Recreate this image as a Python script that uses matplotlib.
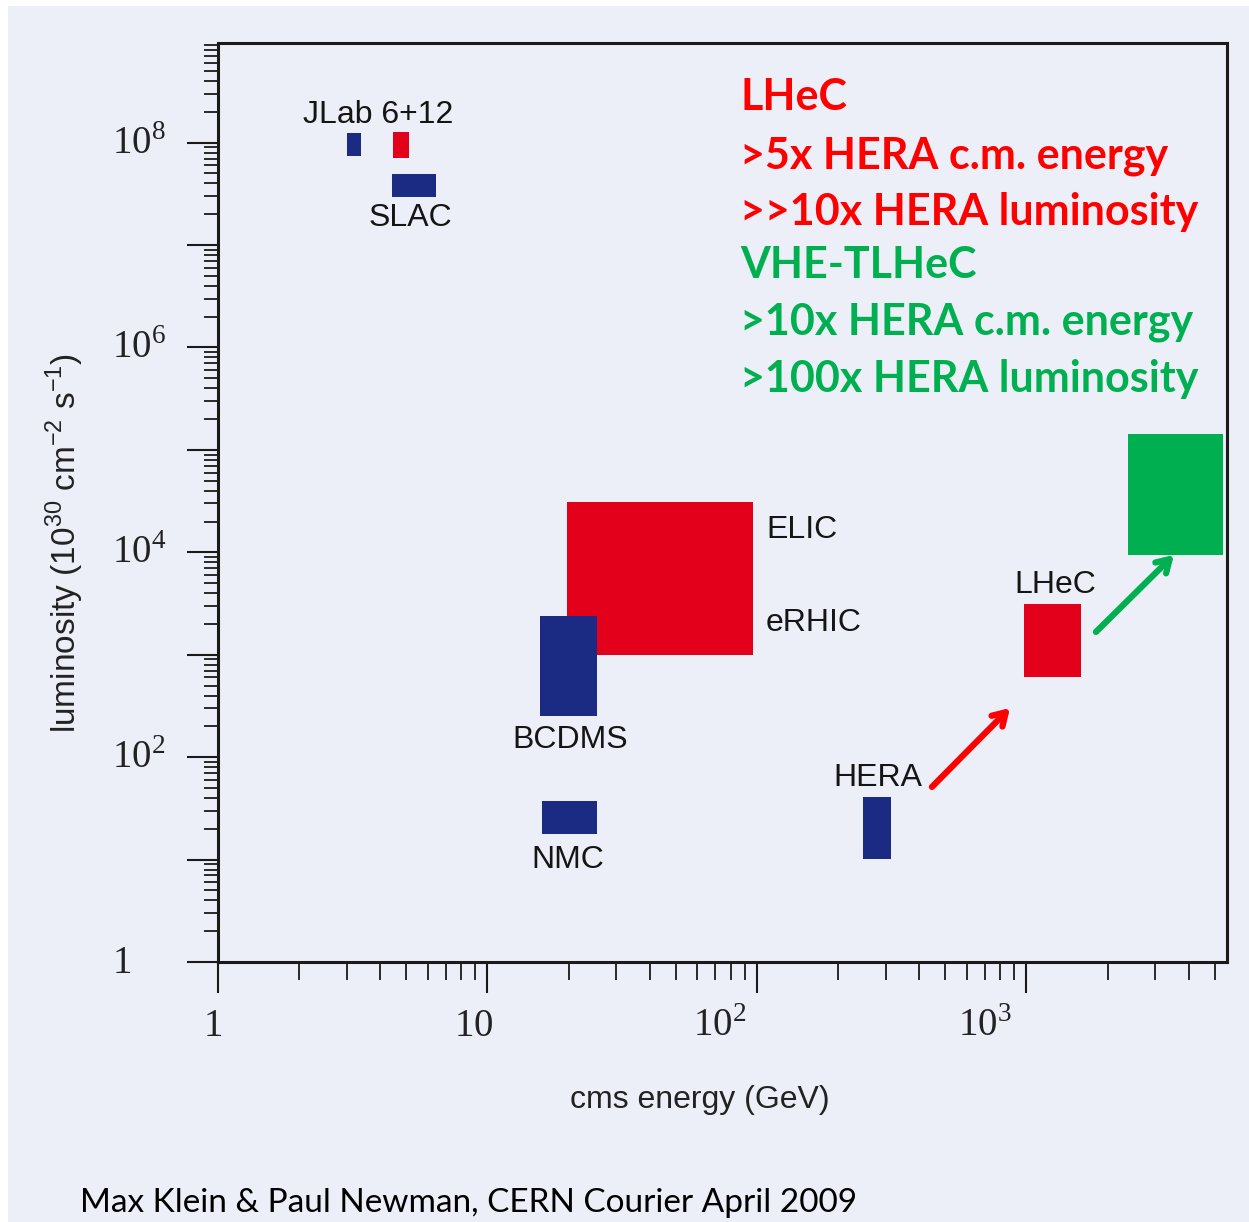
import numpy as np
import matplotlib
matplotlib.use("Agg")
import matplotlib.pyplot as plt
from matplotlib.patches import Rectangle
from matplotlib import font_manager
from matplotlib.ticker import LogLocator
from matplotlib.transforms import ScaledTranslation, blended_transform_factory

# facilities: energy range (GeV) and luminosity range (10^30 cm^-2 s^-1)
names = ['JLab 6', 'JLab 12', 'SLAC', 'ELIC/eRHIC', 'BCDMS', 'NMC', 'HERA', 'LHeC', 'VHE-TLHeC']
e_lo = [3.0, 4.45, 4.43, 19.7, 15.7, 15.9, 247, 979, 2380]
e_hi = [3.4, 5.1, 6.45, 96.6, 25.5, 25.5, 314, 1590, 5360]
lum_lo = [7.4e7, 7.1e7, 2.96e7, 1.0e3, 253, 17.8, 10.1, 607, 9.5e3]
lum_hi = [1.25e8, 1.27e8, 4.96e7, 3.1e4, 2390, 37.3, 40.9, 3130, 1.43e5]
box_colors = ['navy', 'red', 'navy', 'red', 'navy', 'navy', 'navy', 'red', 'green']

# label text and anchor point (energy, luminosity)
labels = ['JLab 6+12', 'SLAC', 'ELIC', 'eRHIC', 'BCDMS', 'NMC', 'HERA', 'LHeC']
lab_e = [3.92, 5.16, 108, 108, 20.2, 19.9, 281, 1276]
lab_lum = [1.87e8, 1.85e7, 1.66e4, 2046, 147, 9.9, 62.6, 4808]
lab_ha = ['center', 'center', 'left', 'left', 'center', 'center', 'center', 'center']

# arrows: (start energy, start lum) -> (end energy, end lum)
arr_start = [(446, 51.2), (1811, 1670)]
arr_end = [(869, 302), (3525, 9430)]
arr_colors = ['red', 'green']

notes = ['LHeC', '>5x HERA c.m. energy', '>>10x HERA luminosity',
         'VHE-TLHeC', '>10x HERA c.m. energy', '>100x HERA luminosity']
note_colors = ['red', 'red', 'red', 'green', 'green', 'green']

xtick_vals = [1, 10, 100, 1000]
xtick_text = ['$1$', '$10$', '$10^{2}$', '$10^{3}$']
ytick_vals = [1, 1e2, 1e4, 1e6, 1e8]
ytick_text = ['$1$', '$10^{2}$', '$10^{4}$', '$10^{6}$', '$10^{8}$']

col = {'navy': '#1b2a83', 'red': '#e2001a', 'green': '#00b050'}
arrow_col = {'red': '#ff0000', 'green': '#00b050'}
bg = '#eceef8'
ink = '#222222'

avail = {f.name for f in font_manager.fontManager.ttflist}
narrow = 'Liberation Sans Narrow' if 'Liberation Sans Narrow' in avail else 'Liberation Sans'

plt.rcParams['mathtext.fontset'] = 'custom'
plt.rcParams['mathtext.rm'] = 'Liberation Serif'
plt.rcParams['mathtext.sf'] = narrow

W, H = 1249, 1222
fig = plt.figure(figsize=(W / 100, H / 100), dpi=100)
fig.patch.set_facecolor('white')
fig.patches.append(Rectangle((8 / W, 0), 1 - 8 / W, 1 - 6 / H, transform=fig.transFigure,
                             facecolor=bg, edgecolor='none', zorder=-10))

ax = fig.add_axes([218 / W, 1 - 962 / H, (1227 - 218) / W, (962 - 43) / H])
ax.set_facecolor(bg)
ax.set_xscale('log')
ax.set_yscale('log')
ax.set_xlim(1, 5550)
ax.set_ylim(1, 9.4e8)

for i in range(len(names)):
    ax.add_patch(Rectangle((e_lo[i], lum_lo[i]), e_hi[i] - e_lo[i], lum_hi[i] - lum_lo[i],
                           facecolor=col[box_colors[i]], edgecolor='none', zorder=2))

for i in range(len(labels)):
    ax.text(lab_e[i], lab_lum[i], labels[i], ha=lab_ha[i], va='center',
            fontsize=23, family=[narrow, 'DejaVu Sans'], color='#151515', zorder=3)

for s, e, c in zip(arr_start, arr_end, arr_colors):
    ax.annotate('', xy=e, xytext=s,
                arrowprops=dict(arrowstyle='->,head_length=0.9,head_width=0.55',
                                color=arrow_col[c], lw=4.5, shrinkA=0, shrinkB=0), zorder=4)

# text block in the upper right
base_px = [110, 168, 225, 278, 335, 392]
for t, c, yb in zip(notes, note_colors, base_px):
    ax.text((740 - 218) / 1009, (962 - yb) / 919, t, transform=ax.transAxes,
            ha='left', va='baseline', fontsize=31, fontweight='bold',
            family=['Lato', 'DejaVu Sans'], color=arrow_col[c])

# axes styling
for sp in ax.spines.values():
    sp.set_linewidth(2.2)
    sp.set_color('#1a1a1a')

ax.xaxis.set_major_locator(LogLocator(base=10, numticks=20))
ax.xaxis.set_minor_locator(LogLocator(base=10, subs=np.arange(2, 10), numticks=20))
ax.yaxis.set_major_locator(LogLocator(base=10, numticks=20))
ax.yaxis.set_minor_locator(LogLocator(base=10, subs=np.arange(2, 10), numticks=20))

ax.tick_params(axis='both', which='major', direction='out', length=22, width=1.5,
               color='#1a1a1a', labelbottom=False, labelleft=False)
ax.tick_params(axis='both', which='minor', labelbottom=False, labelleft=False)
ax.tick_params(axis='x', which='minor', direction='out', length=13, width=1.3, color='#1a1a1a')
ax.tick_params(axis='y', which='minor', direction='out', length=10, width=1.3, color='#1a1a1a')

# tick labels written by hand (the original ones sit a bit off the ticks)
xtick_dx = [-5, -14, -37, -42]
tx = blended_transform_factory(ax.transData, ax.transAxes)
for v, s, dx in zip(xtick_vals, xtick_text, xtick_dx):
    ax.text(v, -(1025 - 962) / 919, s, ha='center', va='center', fontsize=28, color=ink,
            transform=tx + ScaledTranslation(dx / 100, 0, fig.dpi_scale_trans))
ty = blended_transform_factory(ax.transAxes, ax.transData)
for v, s in zip(ytick_vals, ytick_text):
    ax.text((112 - 218) / 1009, v, s, ha='left', va='center', fontsize=28, color=ink,
            transform=ty)

ax.set_xlabel('cms energy (GeV)', fontsize=23, family=[narrow, 'DejaVu Sans'], color=ink)
ax.xaxis.set_label_coords((700 - 218) / 1009, -(1085 - 962) / 919)
ax.set_ylabel(r'luminosity (10$^{\mathsf{30}}$ cm$^{\mathsf{-2}}$ s$^{\mathsf{-1}}$)',
              fontsize=24, family=[narrow, 'DejaVu Sans'], color=ink)
ax.yaxis.set_label_coords((86 - 218) / 1009, (962 - 543) / 919)

fig.text(80 / W, 1 - 1212 / H, 'Max Klein & Paul Newman, CERN Courier April 2009',
         ha='left', va='baseline', fontsize=24, family=['Lato', 'DejaVu Sans'], color='black')

fig.savefig('out.png', dpi=100, facecolor=fig.get_facecolor())
